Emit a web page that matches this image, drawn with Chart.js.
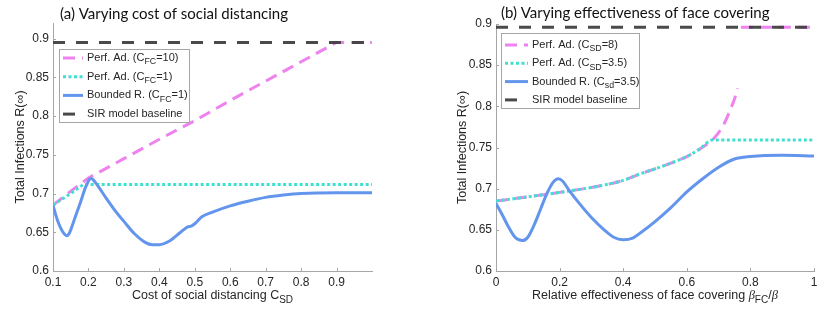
<!DOCTYPE html>
<html>
<head>
<meta charset="utf-8">
<script src="https://cdn.jsdelivr.net/npm/chart.js@4"></script>
<style>
  html, body { margin: 0; padding: 0; background: #fff; }
  #wrap { position: relative; width: 830px; height: 319px; }
  .panel { position: absolute; top: 0; width: 415px; height: 319px; }
</style>
</head>
<body>
<div id="wrap">
  <div class="panel" style="left:0"><canvas id="left" width="415" height="319"></canvas></div>
  <div class="panel" style="left:415px"><canvas id="right" width="415" height="319"></canvas></div>
</div>
<script>
// ---- data, panel (a): varying cost of social distancing ----
const aBaseX = [0.1, 1.0];
const aBaseY = [0.895, 0.895];
const aPinkX = [0.1, 0.15, 0.2, 0.3, 0.4, 0.5, 0.6, 0.7, 0.8, 0.9, 1.0];
const aPinkY = [0.685, 0.703, 0.720, 0.745, 0.770, 0.794, 0.820, 0.845, 0.870, 0.895, 0.895];
const aTealX = [0.1, 0.15, 0.185, 1.0];
const aTealY = [0.685, 0.700, 0.7115, 0.7115];
const aBlueX = [0.1, 0.11, 0.12, 0.13, 0.138, 0.145, 0.15, 0.16, 0.17, 0.18, 0.19, 0.2, 0.205, 0.21, 0.22,
                0.25, 0.28, 0.3, 0.33, 0.36, 0.38, 0.4, 0.43, 0.46, 0.48, 0.49, 0.5, 0.52, 0.55, 0.6,
                0.65, 0.7, 0.75, 0.8, 0.9, 1.0];
const aBlueY = [0.685, 0.669, 0.657, 0.649, 0.6455, 0.648, 0.653, 0.666, 0.679, 0.692, 0.706, 0.716, 0.7195, 0.719, 0.714,
                0.694, 0.675, 0.664, 0.648, 0.637, 0.634, 0.634, 0.639, 0.650, 0.657, 0.658, 0.661, 0.670, 0.676, 0.684,
                0.690, 0.695, 0.698, 0.700, 0.701, 0.701];
const aXTicks = [0.1, 0.2, 0.3, 0.4, 0.5, 0.6, 0.7, 0.8, 0.9];
const aYTicks = [0.6, 0.65, 0.7, 0.75, 0.8, 0.85, 0.9];

// ---- data, panel (b): varying effectiveness of face covering ----
const bBaseX = [0, 1];
const bBaseY = [0.896, 0.896];
const bPinkX = [0, 0.1, 0.2, 0.3, 0.4, 0.45, 0.5, 0.55, 0.6, 0.64, 0.68, 0.7, 0.72, 0.74, 0.75, 0.76, 0.765, 0.77, 1.0];
const bPinkY = [0.685, 0.690, 0.6955, 0.7015, 0.710, 0.7175, 0.724, 0.731, 0.739, 0.748, 0.759, 0.768, 0.781, 0.799, 0.809, 0.822, null, 0.896, 0.896];
const bTealX = [0, 0.1, 0.2, 0.3, 0.4, 0.45, 0.5, 0.55, 0.6, 0.64, 0.68, 1.0];
const bTealY = [0.685, 0.690, 0.6955, 0.7015, 0.710, 0.7175, 0.724, 0.731, 0.739, 0.748, 0.759, 0.759];
const bBlueX = [0, 0.02, 0.04, 0.06, 0.083, 0.1, 0.12, 0.14, 0.16, 0.18, 0.196, 0.21, 0.23, 0.26, 0.3, 0.34, 0.37, 0.4,
                0.43, 0.46, 0.5, 0.55, 0.6, 0.65, 0.7, 0.75, 0.8, 0.9, 1.0];
const bBlueY = [0.682, 0.668, 0.653, 0.641, 0.637, 0.641, 0.656, 0.675, 0.694, 0.708, 0.712, 0.709, 0.698, 0.683, 0.665, 0.650, 0.641, 0.638,
                0.640, 0.648, 0.660, 0.677, 0.696, 0.712, 0.726, 0.736, 0.739, 0.7405, 0.7398];
const bXTicks = [0, 0.2, 0.4, 0.6, 0.8, 1];
const bYTicks = [0.6, 0.65, 0.7, 0.75, 0.8, 0.85, 0.9];

const FAMILY = '"Liberation Sans", Arial, Helvetica, sans-serif';
const AXIS = '#a6a6a6';
const TEXT = '#262626';
const PINK = 'rgb(238,130,238)';
const TEAL = 'rgb(64,224,208)';
const BLUE = 'rgb(100,149,237)';
const DARK = 'rgba(64,64,64,0.95)';
const STYLES = {
  pink: { color: PINK, dash: [12, 7] },
  teal: { color: TEAL, dash: [3, 2.5] },
  blue: { color: BLUE, dash: [] },
  base: { color: DARK, dash: [12, 11] }
};

const zip = (xs, ys) => xs.map((x, i) => ({ x: x, y: ys[i] }));
const fmt = v => String(+v.toFixed(2));

function series(label, key, xs, ys, smooth) {
  const s = STYLES[key];
  return {
    label: label,
    data: zip(xs, ys),
    borderColor: s.color,
    borderDash: s.dash,
    borderWidth: 3,
    borderCapStyle: 'butt',
    pointRadius: 0,
    fill: false,
    spanGaps: false,
    tension: 0,
    cubicInterpolationMode: smooth ? 'monotone' : 'default'
  };
}

// text with subscripts / italic parts: [[text, style], ...]
function drawRich(ctx, parts, x, y, size, align) {
  const fontOf = st => {
    const sub = st && st.indexOf('sub') >= 0;
    const it = st && st.indexOf('i') === 0;
    const fs = sub ? size * 0.8 : size;
    return (it ? 'italic ' : '') + fs + 'px ' + (it ? '"Liberation Serif", serif' : FAMILY);
  };
  let w = 0;
  parts.forEach(p => { ctx.font = fontOf(p[1]); w += ctx.measureText(p[0]).width; });
  let cx = align === 'center' ? x - w / 2 : x;
  ctx.textAlign = 'left';
  ctx.textBaseline = 'middle';
  parts.forEach(p => {
    const sub = p[1] && p[1].indexOf('sub') >= 0;
    ctx.font = fontOf(p[1]);
    ctx.fillText(p[0], cx, y + (sub ? size * 0.35 : 0));
    cx += ctx.measureText(p[0]).width;
  });
}

function decor(spec) {
  return {
    id: 'decor',
    afterDraw(chart) {
      const ctx = chart.ctx;
      const area = chart.chartArea;
      const xs = chart.scales.x, ys = chart.scales.y;
      ctx.save();
      // inward tick marks
      ctx.strokeStyle = AXIS;
      ctx.lineWidth = 1;
      ctx.setLineDash([]);
      xs.ticks.forEach(t => {
        const px = Math.round(xs.getPixelForValue(t.value)) + 0.5;
        ctx.beginPath(); ctx.moveTo(px, area.bottom); ctx.lineTo(px, area.bottom - 3); ctx.stroke();
      });
      ys.ticks.forEach(t => {
        const py = Math.round(ys.getPixelForValue(t.value)) + 0.5;
        ctx.beginPath(); ctx.moveTo(area.left, py); ctx.lineTo(area.left + 3, py); ctx.stroke();
      });
      // legend
      const L = spec.legend;
      ctx.fillStyle = '#fff';
      ctx.fillRect(area.left + L.x, area.top + L.y, L.w, L.h);
      ctx.strokeStyle = AXIS;
      ctx.strokeRect(area.left + L.x + 0.5, area.top + L.y + 0.5, L.w, L.h);
      L.items.forEach((it, i) => {
        const cy = area.top + L.y + L.first + i * L.step;
        const s = STYLES[it.key];
        ctx.strokeStyle = s.color;
        ctx.lineWidth = 3;
        ctx.setLineDash(s.dash);
        ctx.beginPath();
        ctx.moveTo(area.left + L.x + 4, cy);
        ctx.lineTo(area.left + L.x + 4 + L.sample, cy);
        ctx.stroke();
        ctx.fillStyle = TEXT;
        drawRich(ctx, it.text, area.left + L.x + L.sample + 8, cy, 11, 'left');
      });
      // x axis title with subscripts
      ctx.fillStyle = TEXT;
      drawRich(ctx, spec.xTitle, (area.left + area.right) / 2, spec.xTitleY, 12.5, 'center');
      // panel title
      ctx.fillStyle = '#111';
      ctx.font = spec.titleSize + 'px Lato, "Open Sans", sans-serif';
      ctx.textAlign = 'left';
      ctx.textBaseline = 'middle';
      ctx.fillText(spec.title, spec.titleX, spec.titleY);
      ctx.restore();
    }
  };
}

function panel(id, cfg) {
  return new Chart(document.getElementById(id), {
    type: 'line',
    data: { datasets: cfg.datasets },
    options: {
      responsive: false,
      animation: false,
      layout: { padding: cfg.padding },
      plugins: { legend: { display: false }, tooltip: { enabled: false }, title: { display: false } },
      scales: {
        x: {
          type: 'linear', min: cfg.xMin, max: cfg.xMax,
          afterBuildTicks: s => { s.ticks = cfg.xTicks.map(v => ({ value: v })); },
          afterFit: s => { s.height = 48; },
          grid: { display: false, drawTicks: false },
          border: { display: true, color: AXIS, width: 1 },
          ticks: { color: TEXT, font: { size: 12, family: FAMILY }, padding: 4, maxRotation: 0, autoSkip: false, callback: v => fmt(v) }
        },
        y: {
          type: 'linear', min: cfg.yMin, max: cfg.yMax,
          afterBuildTicks: s => { s.ticks = cfg.yTicks.map(v => ({ value: v })); },
          afterFit: s => { s.width = cfg.yWidth; },
          grid: { display: false, drawTicks: false },
          border: { display: true, color: AXIS, width: 1 },
          ticks: { color: TEXT, font: { size: 12, family: FAMILY }, padding: 4, autoSkip: false, callback: v => fmt(v) },
          title: { display: true, text: 'Total Infections R(\u221E)', color: TEXT, font: { size: 12.5, family: FAMILY }, padding: 0 }
        }
      }
    },
    plugins: [decor(cfg.decor)]
  });
}

panel('left', {
  datasets: [
    series('SIR model baseline', 'base', aBaseX, aBaseY, false),
    series('Bounded R. (C_FC=1)', 'blue', aBlueX, aBlueY, true),
    series('Perf. Ad. (C_FC=1)', 'teal', aTealX, aTealY, false),
    series('Perf. Ad. (C_FC=10)', 'pink', aPinkX, aPinkY, false)
  ],
  padding: { left: 13, top: 23, right: 43, bottom: 0 },
  yWidth: 40,
  xMin: 0.1, xMax: 1.0, yMin: 0.6, yMax: 0.92,
  xTicks: aXTicks, yTicks: aYTicks,
  decor: {
    title: '(a) Varying cost of social distancing', titleX: 60, titleY: 14, titleSize: 15,
    xTitle: [['Cost of social distancing C'], ['SD', 'sub']], xTitleY: 296,
    legend: {
      x: 6, y: 26, w: 130, h: 73, first: 9, step: 18.7, sample: 20,
      items: [
        { key: 'pink', text: [['Perf. Ad. (C'], ['FC', 'sub'], ['=10)']] },
        { key: 'teal', text: [['Perf. Ad. (C'], ['FC', 'sub'], ['=1)']] },
        { key: 'blue', text: [['Bounded R. (C'], ['FC', 'sub'], ['=1)']] },
        { key: 'base', text: [['SIR model baseline']] }
      ]
    }
  }
});

panel('right', {
  datasets: [
    series('SIR model baseline', 'base', bBaseX, bBaseY, false),
    series('Bounded R. (C_sd=3.5)', 'blue', bBlueX, bBlueY, true),
    series('Perf. Ad. (C_SD=3.5)', 'teal', bTealX, bTealY, true),
    series('Perf. Ad. (C_SD=8)', 'pink', bPinkX, bPinkY, true)
  ],
  padding: { left: 40, top: 24, right: 16, bottom: 0 },
  yWidth: 41,
  xMin: 0, xMax: 1, yMin: 0.6, yMax: 0.9,
  xTicks: bXTicks, yTicks: bYTicks,
  decor: {
    title: '(b) Varying effectiveness of face covering', titleX: 86, titleY: 13, titleSize: 15,
    xTitle: [['Relative effectiveness of face covering '], ['\u03B2', 'i'], ['FC', 'sub'], ['/'], ['\u03B2', 'i']], xTitleY: 296,
    legend: {
      x: 5, y: 9, w: 138, h: 75, first: 12, step: 18.3, sample: 23,
      items: [
        { key: 'pink', text: [['Perf. Ad. (C'], ['SD', 'sub'], ['=8)']] },
        { key: 'teal', text: [['Perf. Ad. (C'], ['SD', 'sub'], ['=3.5)']] },
        { key: 'blue', text: [['Bounded R. (C'], ['sd', 'sub'], ['=3.5)']] },
        { key: 'base', text: [['SIR model baseline']] }
      ]
    }
  }
});
</script>
</body>
</html>
